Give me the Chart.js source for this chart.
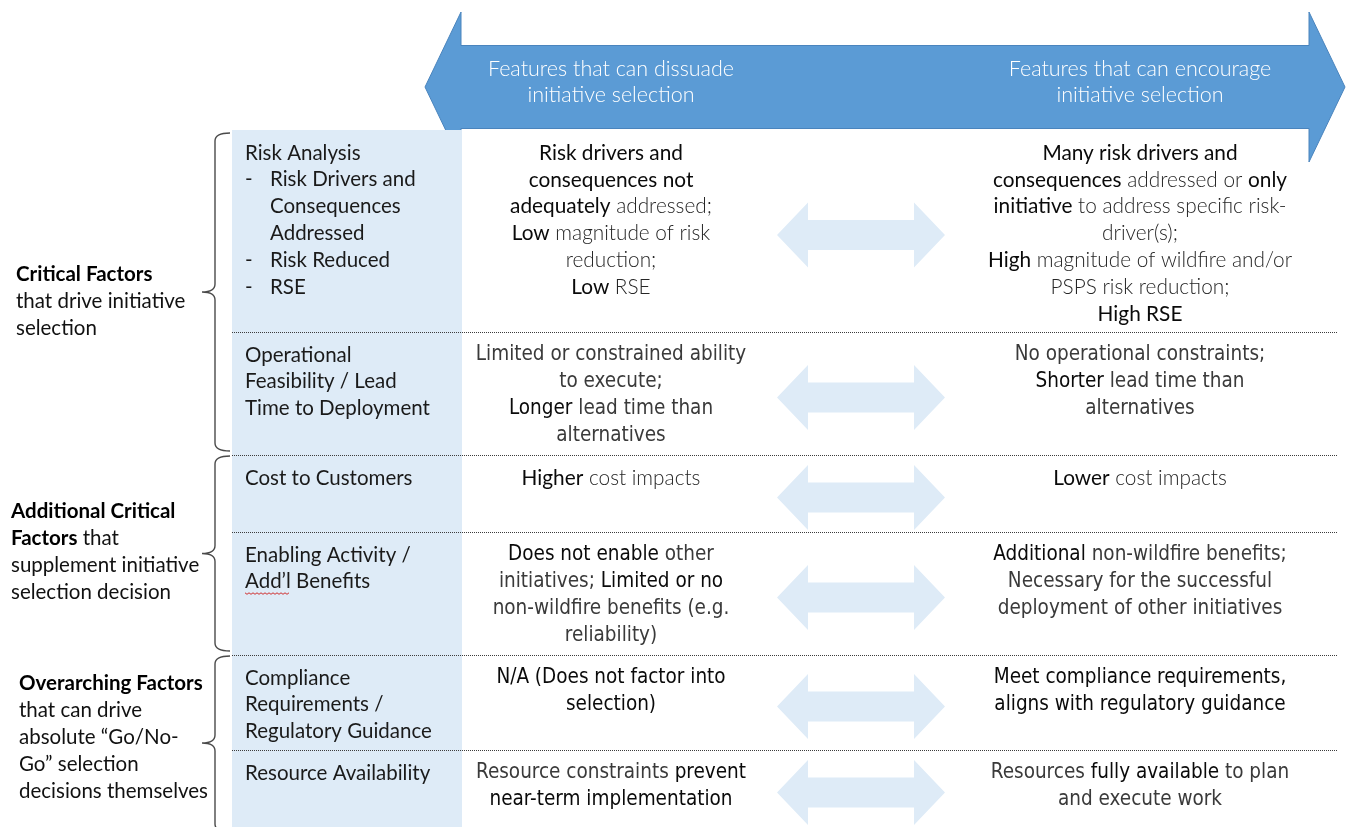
<!DOCTYPE html>
<html>
<head>
<meta charset="utf-8">
<script src="https://cdn.jsdelivr.net/npm/chart.js@4.4.1/dist/chart.umd.min.js"></script>
<style>
  html, body { margin: 0; padding: 0; background: #fff; }
  #wrap { width: 1354px; height: 827px; }
</style>
</head>
<body>
<div id="wrap"><canvas id="diagram" width="1354" height="827"></canvas></div>
<script>
// text inside the big header arrow
var headerLeft = ['Features that can dissuade', 'initiative selection']
var headerRight = ['Features that can encourage', 'initiative selection']

// groups on the left, **...** marks the bold part
var groupTitles = [
  ['**Critical Factors**', 'that drive initiative', 'selection'],
  ['**Additional Critical**', '**Factors** that', 'supplement initiative', 'selection decision'],
  ['**Overarching Factors**', 'that can drive', 'absolute \u201cGo/No-', 'Go\u201d selection', 'decisions themselves']
]
var groupRowCount = [2, 2, 2]

// factor names (light blue column)
var factorLabels = [
  ['Risk Analysis', '-\tRisk Drivers and', '\tConsequences', '\tAddressed', '-\tRisk Reduced', '-\tRSE'],
  ['Operational', 'Feasibility / Lead', 'Time to Deployment'],
  ['Cost to Customers'],
  ['Enabling Activity /', 'Add\u2019l Benefits'],
  ['Compliance', 'Requirements /', 'Regulatory Guidance'],
  ['Resource Availability']
]

// dissuade side, **...** = darker words
var dissuadeText = [
  ['**Risk drivers and**', '**consequences not**', '**adequately** addressed;', '**Low** magnitude of risk', 'reduction;', '**Low** RSE'],
  ['Limited or constrained ability', 'to execute;', '**Longer** lead time than', 'alternatives'],
  ['**Higher** cost impacts'],
  ['**Does not enable** other', 'initiatives; **Limited or no**', 'non-wildfire benefits (e.g.', 'reliability)'],
  ['**N/A (Does not factor into**', '**selection)**'],
  ['Resource constraints **prevent**', '**near-term implementation**']
]

// encourage side
var encourageText = [
  ['**Many risk drivers and**', '**consequences** addressed or **only**', '**initiative** to address specific risk-', 'driver(s);', '**High** magnitude of wildfire and/or', 'PSPS risk reduction;', '**High RSE**'],
  ['No operational constraints;', '**Shorter** lead time than', 'alternatives'],
  ['**Lower** cost impacts'],
  ['**Additional** non-wildfire benefits;', 'Necessary for the successful', 'deployment of other initiatives'],
  ['**Meet compliance requirements,**', '**aligns with regulatory guidance**'],
  ['Resources **fully available** to plan', 'and execute work']
]

// rows set in the narrower face
var narrowRows = [false, true, false, true, true, true]

// layout (page units, mapped through the chart scales)
var layout = {
  rowEdges: [130, 332, 455, 532, 655, 750, 827],
  colLeft: 232, colRight: 462, ruleRight: 1338,
  dissuadeX: 611, encourageX: 1140, arrowX: 861,
  lineH: 26.8, firstLine: 23,
  braceX: 215
}

var FONT = 'Lato, "Open Sans", sans-serif'
var NARROW = '"Liberation Sans Narrow", "DejaVu Sans Condensed", Lato, sans-serif'

function segments(text) {
  return text.split('**').map(function (s, i) { return { t: s, strong: i % 2 === 1 } })
}

// draws one line of mixed light / dark text
function richLine(ctx, text, x, y, align, size, family, colors, boldStrong) {
  var segs = segments(text)
  var fonts = segs.map(function (s) {
    if (boldStrong) return (s.strong ? '700 ' : '400 ') + size + 'px ' + family
    return (s.strong ? '400 ' : '300 ') + size + 'px ' + family
  })
  var total = 0
  segs.forEach(function (s, i) { ctx.font = fonts[i]; total += ctx.measureText(s.t).width })
  var cx = align === 'center' ? x - total / 2 : x
  ctx.textAlign = 'left'
  ctx.textBaseline = 'middle'
  segs.forEach(function (s, i) {
    ctx.font = fonts[i]
    ctx.fillStyle = s.strong ? colors[0] : colors[1]
    ctx.fillText(s.t, cx, y)
    cx += ctx.measureText(s.t).width
  })
}

function doubleArrow(ctx, X, Y, cx, cy, half, head, hh, bh, color) {
  ctx.beginPath()
  ctx.moveTo(X(cx - half), Y(cy))
  ctx.lineTo(X(cx - half + head), Y(cy - hh))
  ctx.lineTo(X(cx - half + head), Y(cy - bh))
  ctx.lineTo(X(cx + half - head), Y(cy - bh))
  ctx.lineTo(X(cx + half - head), Y(cy - hh))
  ctx.lineTo(X(cx + half), Y(cy))
  ctx.lineTo(X(cx + half - head), Y(cy + hh))
  ctx.lineTo(X(cx + half - head), Y(cy + bh))
  ctx.lineTo(X(cx - half + head), Y(cy + bh))
  ctx.lineTo(X(cx - half + head), Y(cy + hh))
  ctx.closePath()
  ctx.fillStyle = color
  ctx.fill()
}

var diagramPlugin = {
  id: 'diagram',
  afterDraw: function (chart) {
    var ctx = chart.ctx
    var X = function (v) { return chart.scales.x.getPixelForValue(v) }
    var Y = function (v) { return chart.scales.y.getPixelForValue(v) }
    var L = layout
    ctx.save()

    // big header arrow
    doubleArrow(ctx, X, Y, 885, 87, 460, 36, 75, 41.5, '#5b9bd5')
    ctx.strokeStyle = '#4a84bd'
    ctx.lineWidth = 1
    ctx.stroke()
    ctx.font = '300 21.5px ' + FONT
    ctx.fillStyle = '#fff'
    ctx.textAlign = 'center'
    ctx.textBaseline = 'middle'
    headerLeft.forEach(function (t, i) {
      ctx.fillText(t, X(L.dissuadeX), Y(69 + i * 26.5))
    })
    headerRight.forEach(function (t, i) {
      ctx.fillText(t, X(L.encourageX), Y(69 + i * 26.5))
    })

    // light blue factor column
    ctx.fillStyle = '#deebf7'
    ctx.fillRect(X(L.colLeft), Y(L.rowEdges[0]), X(L.colRight) - X(L.colLeft), Y(L.rowEdges[6]) - Y(L.rowEdges[0]))

    // dotted row rules
    ctx.strokeStyle = '#3c3c3c'
    ctx.lineWidth = 1
    ctx.setLineDash([1, 1])
    for (var r = 1; r < L.rowEdges.length - 1; r++) {
      var yy = Math.round(Y(L.rowEdges[r])) + 0.5
      ctx.beginPath()
      ctx.moveTo(X(L.colLeft), yy)
      ctx.lineTo(X(L.ruleRight), yy)
      ctx.stroke()
    }
    ctx.setLineDash([])

    // braces and group titles
    var start = 0
    groupTitles.forEach(function (lines, g) {
      var top = L.rowEdges[start] + (g === 0 ? 3 : 1)
      var bot = L.rowEdges[start + groupRowCount[g]] - 4
      if (g === groupTitles.length - 1) bot = 832
      var mid = g === 2 ? 743 : (top + bot) / 2
      var bx = L.braceX
      ctx.beginPath()
      ctx.moveTo(X(bx + 15), Y(top))
      ctx.quadraticCurveTo(X(bx), Y(top), X(bx), Y(top + 8))
      ctx.lineTo(X(bx), Y(mid - 8))
      ctx.quadraticCurveTo(X(bx), Y(mid), X(bx - 13), Y(mid))
      ctx.quadraticCurveTo(X(bx), Y(mid), X(bx), Y(mid + 8))
      ctx.lineTo(X(bx), Y(bot - 8))
      ctx.quadraticCurveTo(X(bx), Y(bot), X(bx + 15), Y(bot))
      ctx.strokeStyle = '#4a4a4a'
      ctx.lineWidth = 1.4
      ctx.stroke()

      var tx = [16, 11, 19][g]
      var ty = mid - (lines.length - 1) / 2 * 27 + [9, -2, -6][g]
      lines.forEach(function (t, i) {
        richLine(ctx, t, X(tx), Y(ty + i * 27), 'left', 20.5, FONT, ['#000', '#111'], true)
      })
      start += groupRowCount[g]
    })

    // rows
    for (var k = 0; k < factorLabels.length; k++) {
      var rTop = L.rowEdges[k]
      var rMid = (L.rowEdges[k] + L.rowEdges[k + 1]) / 2
      var first = rTop + L.firstLine

      factorLabels[k].forEach(function (t, i) {
        var yy = Y(first + i * L.lineH)
        ctx.font = '400 20.5px ' + FONT
        ctx.fillStyle = '#1a1a1a'
        ctx.textAlign = 'left'
        ctx.textBaseline = 'middle'
        var parts = t.split('\t')
        if (parts.length > 1) {
          if (parts[0]) ctx.fillText(parts[0], X(L.colLeft + 13), yy)
          ctx.fillText(parts[1], X(L.colLeft + 38), yy)
        } else {
          ctx.fillText(t, X(L.colLeft + 13), yy)
          if (t.indexOf('Add\u2019l') === 0) {
            // spell-check squiggle
            var w = ctx.measureText('Add\u2019l').width
            ctx.beginPath()
            ctx.strokeStyle = '#d03030'
            ctx.lineWidth = 1
            for (var s = 0; s <= w; s += 2) {
              var sy = yy + 11 + (s % 4 === 0 ? 0 : 1.5)
              if (s === 0) ctx.moveTo(X(L.colLeft + 13) + s, sy)
              else ctx.lineTo(X(L.colLeft + 13) + s, sy)
            }
            ctx.stroke()
          }
        }
      })

      var fam = narrowRows[k] ? NARROW : FONT
      var size = narrowRows[k] ? 20.5 : 20.8
      var light = narrowRows[k] ? '#3a3a3a' : '#262626'
      dissuadeText[k].forEach(function (t, i) {
        richLine(ctx, t, X(L.dissuadeX), Y(first + i * L.lineH), 'center', size, fam, ['#0a0a0a', light], false)
      })
      encourageText[k].forEach(function (t, i) {
        richLine(ctx, t, X(L.encourageX), Y(first + i * L.lineH), 'center', size, fam, ['#0a0a0a', light], false)
      })

      doubleArrow(ctx, X, Y, L.arrowX, rMid + 4, 84, 31, 32.5, 15, '#deebf7')
    }
    ctx.restore()
  }
}

new Chart(document.getElementById('diagram'), {
  type: 'scatter',
  data: { datasets: [] },
  options: {
    responsive: false,
    animation: false,
    layout: { padding: 0 },
    plugins: { legend: { display: false }, tooltip: { enabled: false } },
    scales: {
      x: { type: 'linear', min: 0, max: 1354, display: false },
      y: { type: 'linear', min: 0, max: 827, reverse: true, display: false }
    }
  },
  plugins: [diagramPlugin]
})
</script>
</body>
</html>
